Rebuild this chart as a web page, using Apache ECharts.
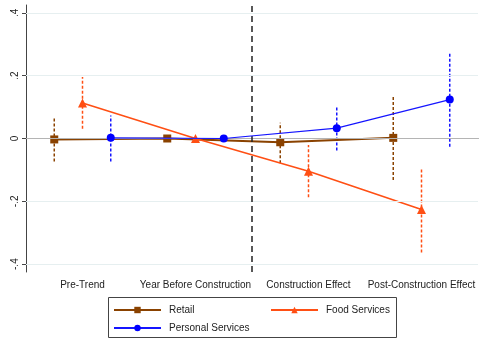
<!DOCTYPE html>
<html>
<head>
<meta charset="utf-8">
<script src="https://cdn.jsdelivr.net/npm/echarts@6/dist/echarts.min.js"></script>
<style>
  html, body { margin: 0; padding: 0; background: #fff; }
  #chart { width: 479px; height: 341px; }
</style>
</head>
<body>
<div id="chart"></div>
<script>
// Event-study periods along the x axis
const periods = ['Pre-Trend', 'Year Before Construction', 'Construction Effect', 'Post-Construction Effect'];
const yTicks = [-0.4, -0.2, 0, 0.2, 0.4];

// Point estimates per sector
const retail   = [-0.003, 0, -0.012, 0.002];
const food     = [0.113, 0, -0.104, -0.226];
const personal = [0.002, 0, 0.033, 0.124];

// Confidence interval bounds (low, high); the reference year has none
const retailLow    = [-0.073, null, -0.079, -0.132];
const retailHigh   = [0.068, null, 0.050, 0.134];
const foodLow      = [0.031, null, -0.187, -0.363];
const foodHigh     = [0.196, null, -0.021, -0.093];
const personalLow  = [-0.073, null, -0.038, -0.026];
const personalHigh = [0.073, null, 0.105, 0.273];

const colors = { retail: '#8a4200', food: '#ff4f14', personal: '#1515ff' };
const offsets = { retail: -0.25, food: 0, personal: 0.25 };

function points(vals, off) {
  return vals.map((v, i) => [i + 1 + off, v]);
}
function bars(lo, hi, off) {
  const out = [];
  lo.forEach((l, i) => { if (l !== null) out.push([i + 1 + off, l, hi[i]]); });
  return out;
}
function errorSeries(lo, hi, off, color) {
  return {
    type: 'custom',
    xAxisIndex: 1,
    silent: true,
    z: 2,
    data: bars(lo, hi, off),
    encode: { x: 0, y: [1, 2] },
    renderItem: function (params, api) {
      const a = api.coord([api.value(0), api.value(1)]);
      const b = api.coord([api.value(0), api.value(2)]);
      return {
        type: 'line',
        shape: { x1: a[0], y1: a[1], x2: b[0], y2: b[1] },
        style: { stroke: color, lineWidth: 1.5, lineDash: [3, 2] }
      };
    }
  };
}

const grid = { left: 26, right: 1, top: 5, bottom: 69 };
const font = 'Liberation Sans, Arial, sans-serif';
const legendText = { fontSize: 10, color: '#222', fontFamily: font, padding: [0, 0, 0, 3] };

const chart = echarts.init(document.getElementById('chart'), null, { renderer: 'canvas' });
chart.setOption({
  animation: false,
  backgroundColor: '#fff',
  textStyle: { fontFamily: font },
  grid: grid,
  xAxis: [
    {
      type: 'category',
      data: periods,
      boundaryGap: true,
      axisLine: { lineStyle: { color: '#444', width: 1 } },
      axisTick: { alignWithLabel: true, length: 4, lineStyle: { color: '#444' } },
      axisLabel: { color: '#222', fontSize: 10, margin: 8, interval: 0, fontFamily: font },
      splitLine: { show: false }
    },
    {
      type: 'value',
      min: 0.5,
      max: 4.5,
      show: false,
      splitLine: { show: false }
    }
  ],
  yAxis: {
    type: 'value',
    min: -0.425,
    max: 0.425,
    axisLine: { show: true, lineStyle: { color: '#444', width: 1 } },
    axisTick: { show: true, length: 4, customValues: yTicks, lineStyle: { color: '#444' } },
    axisLabel: {
      customValues: yTicks,
      rotate: 90,
      fontSize: 10,
      color: '#222',
      margin: 6,
      fontFamily: font,
      formatter: function (v) {
        if (Math.abs(v) < 1e-9) return '0';
        return (v < 0 ? '-' : '') + String(Math.abs(v).toFixed(1)).replace(/^0/, '');
      }
    },
    splitLine: { show: false }
  },
  legend: [
    {
      data: ['Retail'], left: 113, top: 305, padding: 0, itemWidth: 47, itemHeight: 8, itemGap: 0,
      textStyle: legendText, selectedMode: false
    },
    {
      data: ['Food Services'], left: 270, top: 305, padding: 0, itemWidth: 47, itemHeight: 8, itemGap: 0,
      textStyle: legendText, selectedMode: false
    },
    {
      data: ['Personal Services'], left: 113, top: 323, padding: 0, itemWidth: 47, itemHeight: 8, itemGap: 0,
      textStyle: legendText, selectedMode: false
    }
  ],
  graphic: [
    {
      type: 'rect',
      shape: { x: 108.5, y: 297.5, width: 288, height: 40 },
      style: { fill: 'none', stroke: '#444', lineWidth: 1 },
      silent: true
    }
  ],
  series: [
    // Reference grid lines and the construction-start divider
    {
      type: 'line',
      xAxisIndex: 1,
      data: [],
      silent: true,
      z: 1,
      markLine: {
        symbol: 'none',
        silent: true,
        label: { show: false },
        animation: false,
        data: [
          { yAxis: 0.4, lineStyle: { color: '#e6eff0', width: 1, type: 'solid' } },
          { yAxis: 0.2, lineStyle: { color: '#e6eff0', width: 1, type: 'solid' } },
          { yAxis: -0.2, lineStyle: { color: '#e6eff0', width: 1, type: 'solid' } },
          { yAxis: -0.4, lineStyle: { color: '#e6eff0', width: 1, type: 'solid' } },
          { yAxis: 0, lineStyle: { color: '#b4b4b4', width: 1, type: 'solid' } },
          { xAxis: 2.5, lineStyle: { color: '#222', width: 1.5, type: [6, 4] } }
        ]
      }
    },
    errorSeries(retailLow, retailHigh, offsets.retail, colors.retail),
    errorSeries(foodLow, foodHigh, offsets.food, colors.food),
    errorSeries(personalLow, personalHigh, offsets.personal, colors.personal),
    {
      name: 'Retail',
      type: 'line',
      xAxisIndex: 1,
      data: points(retail, offsets.retail),
      symbol: 'rect',
      symbolSize: 8,
      showAllSymbol: true,
      color: colors.retail,
      lineStyle: { color: colors.retail, width: 2 },
      itemStyle: { color: colors.retail },
      z: 3
    },
    {
      name: 'Food Services',
      type: 'line',
      xAxisIndex: 1,
      data: points(food, offsets.food),
      symbol: 'triangle',
      symbolSize: 9,
      showAllSymbol: true,
      color: colors.food,
      lineStyle: { color: colors.food, width: 1.6 },
      itemStyle: { color: colors.food },
      z: 4
    },
    {
      name: 'Personal Services',
      type: 'line',
      xAxisIndex: 1,
      data: points(personal, offsets.personal),
      symbol: 'circle',
      symbolSize: 8,
      showAllSymbol: true,
      color: colors.personal,
      lineStyle: { color: colors.personal, width: 1.2 },
      itemStyle: { color: '#0000ff' },
      z: 5
    }
  ]
});
</script>
</body>
</html>
